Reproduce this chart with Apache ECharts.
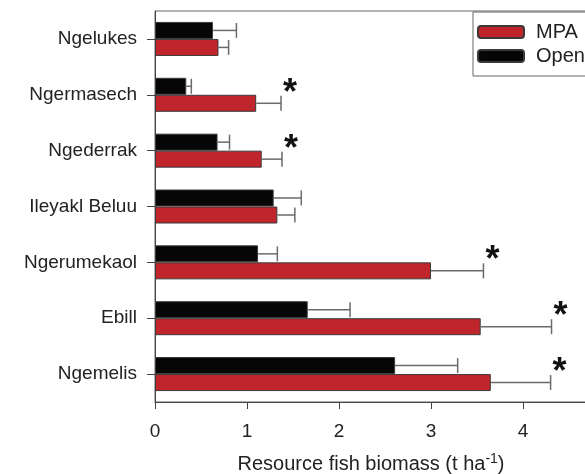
<!DOCTYPE html>
<html><head><meta charset="utf-8">
<script src="https://cdn.jsdelivr.net/npm/echarts@6/dist/echarts.min.js"></script>
<style>html,body{margin:0;padding:0;background:#fff}#c{width:585px;height:474px}</style>
</head><body><div id="c"></div>
<script>
const sites = ['Ngelukes','Ngermasech','Ngederrak','Ileyakl Beluu','Ngerumekaol','Ebill','Ngemelis'];
const mpaMean = [0.69, 1.10, 1.16, 1.33, 3.00, 3.54, 3.65];
const mpaUpper = [0.80, 1.37, 1.38, 1.52, 3.57, 4.31, 4.30];
const openMean = [0.63, 0.34, 0.68, 1.29, 1.12, 1.66, 2.61];
const openUpper = [0.885, 0.395, 0.81, 1.59, 1.33, 2.12, 3.29];
const significant = [false, true, true, false, true, true, true];
const xTicks = [0, 1, 2, 3, 4, 5];

const BAR_W = 17;
const red = '#c0252b', blk = '#060606', edge = '#3a3a3a', errC = '#6a6a6a';

function errRender(off){
  return function(params, api){
    const v = api.value(0), c = api.value(1), hi = api.value(2);
    const p0 = api.coord([v, c]), p1 = api.coord([hi, c]);
    const y = p0[1] + off, h = 7.5;
    return {type:'group', children:[
      {type:'line', shape:{x1:p0[0], y1:y, x2:p1[0], y2:y}, style:{stroke:errC, lineWidth:1.5}},
      {type:'line', shape:{x1:p1[0], y1:y-h, x2:p1[0], y2:y+h}, style:{stroke:errC, lineWidth:1.5}}
    ]};
  };
}

const openErr = openMean.map((v,i)=>[v,i,openUpper[i]]);
const mpaErr = mpaMean.map((v,i)=>[v,i,mpaUpper[i]]);
const stars = [];
significant.forEach((s,i)=>{ if(s) stars.push([mpaUpper[i], i]); });

const chart = echarts.init(document.getElementById('c'), null, {renderer:'canvas'});
chart.setOption({
  animation:false,
  textStyle:{fontFamily:'"Liberation Sans", Arial, sans-serif'},
  grid:{left:155, top:11, width:460, height:391, outerBoundsMode:'none', containLabel:false,
    show:true, borderColor:'#666', borderWidth:1, backgroundColor:'transparent'},
  legend:{
    data:['MPA','Open'], orient:'vertical', left:473, top:12,
    itemWidth:46, itemHeight:12, itemGap:4,
    padding:[10,70,10,4],
    borderColor:'#666', borderWidth:1, backgroundColor:'#fff',
    textStyle:{fontSize:20, color:'#222', padding:[0,0,0,7]}
  },
  xAxis:{
    type:'value', min:xTicks[0], max:xTicks[xTicks.length-1], interval:1,
    axisLine:{show:true, lineStyle:{color:'#444', width:1}},
    axisTick:{show:true, length:7, lineStyle:{color:'#444'}},
    axisLabel:{fontSize:19, color:'#222', margin:20},
    splitLine:{show:false},
    name:'Resource fish biomass (t ha{sup|-1})', nameLocation:'middle', nameGap:50,
    nameTextStyle:{fontSize:20, color:'#222', padding:[0,28,0,0],
      rich:{sup:{fontSize:14, verticalAlign:'top', padding:[0,0,10,0], color:'#222'}}}
  },
  yAxis:{
    type:'category', data:sites, inverse:true,
    axisLine:{show:true, lineStyle:{color:'#444', width:1}},
    axisTick:{show:true, length:8, alignWithLabel:true, lineStyle:{color:'#444'}},
    axisLabel:{fontSize:19, color:'#222', margin:18}
  },
  series:[
    {name:'Open', type:'bar', data:openMean, barWidth:BAR_W, barGap:'0%',
      itemStyle:{color:blk, borderColor:edge, borderWidth:1}},
    {name:'MPA', type:'bar', data:mpaMean, barWidth:BAR_W, barGap:'0%',
      itemStyle:{color:red, borderColor:edge, borderWidth:1}},
    {type:'custom', data:openErr, encode:{x:[0,2], y:1}, renderItem:errRender(-BAR_W/2), z:5},
    {type:'custom', data:mpaErr, encode:{x:[0,2], y:1}, renderItem:errRender(BAR_W/2), z:5},
    {type:'custom', data:stars, encode:{x:0, y:1}, z:6,
      renderItem:function(params, api){
        const p = api.coord([api.value(0), api.value(1)]);
        return {type:'text', x:p[0]+9, y:p[1]-BAR_W/2+7.5,
          style:{text:'*', fontSize:36, fontWeight:'bold', fill:'#111', align:'center', verticalAlign:'middle',
            fontFamily:'"Liberation Sans", Arial, sans-serif'}};
      }}
  ]
});
</script></body></html>
